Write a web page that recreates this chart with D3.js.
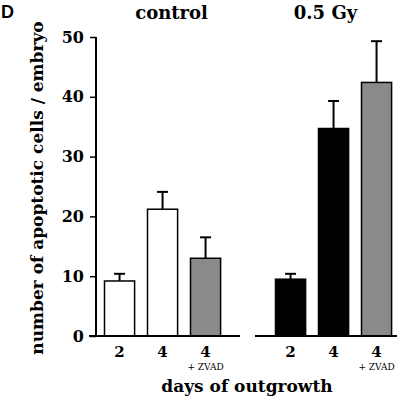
<!DOCTYPE html>
<html><head><meta charset="utf-8">
<script src="https://cdn.jsdelivr.net/npm/d3@7"></script>
<style>body{margin:0;background:#fff}svg{display:block}
.sf{font-family:"DejaVu Serif",serif;}
</style>
</head><body>
<script>
// ---- data ----
const categories = ["2", "4", "4"];
const subLabels = ["", "", "+ ZVAD"];
const panels = ["control", "0.5 Gy"];
const controlValues = [9.2, 21.2, 13.0];
const controlErrors = [10.4, 24.1, 16.5];
const irradiatedValues = [9.5, 34.7, 42.4];
const irradiatedErrors = [10.4, 39.3, 49.3];
const yTicks = [0, 10, 20, 30, 40, 50];
const controlFills = ["#ffffff", "#ffffff", "#8a8a8a"];
const irradiatedFills = ["#000000", "#000000", "#8a8a8a"];

const W = 400, H = 400;
const svg = d3.select("body").append("svg").attr("width", W).attr("height", H);

const y = d3.scaleLinear().domain([0, 50]).range([336, 37]);

const yAxis = d3.axisLeft(y).tickValues(yTicks).tickSize(6).tickPadding(6);
const gy = svg.append("g").attr("transform", "translate(96,0)").call(yAxis);
gy.attr("font-family", null);
gy.select(".domain").attr("d", `M0,${y(0)}V${y(50)}`).attr("stroke", "#000").attr("stroke-width", 2);
gy.selectAll(".tick line").attr("stroke-width", 1.5);
gy.selectAll(".tick text").attr("class", "sf").attr("font-weight", "bold")
  .attr("font-size", 16).attr("fill", "#000");

const panelDefs = [
  {name: panels[0], values: controlValues, errs: controlErrors, fills: controlFills,
   range: [91.6, 233.5], base: [89, 240], titleShift: 9},
  {name: panels[1], values: irradiatedValues, errs: irradiatedErrors, fills: irradiatedFills,
   range: [262.6, 404.5], base: [255, 397], titleShift: -8}
];

panelDefs.forEach(p => {
  const x = d3.scaleBand().domain(d3.range(categories.length)).range(p.range).padding(0.3);
  const g = svg.append("g");
  const bw = x.bandwidth();
  g.selectAll("line.err").data(p.values).join("line").attr("class", "err")
    .attr("x1", (d, i) => x(i) + bw / 2).attr("x2", (d, i) => x(i) + bw / 2)
    .attr("y1", d => y(d)).attr("y2", (d, i) => y(p.errs[i]))
    .attr("stroke", "#000").attr("stroke-width", 2);
  g.selectAll("line.cap").data(p.errs).join("line").attr("class", "cap")
    .attr("x1", (d, i) => x(i) + bw / 2 - 5.5).attr("x2", (d, i) => x(i) + bw / 2 + 5.5)
    .attr("y1", d => y(d)).attr("y2", d => y(d))
    .attr("stroke", "#000").attr("stroke-width", 2);
  g.selectAll("rect").data(p.values).join("rect")
    .attr("x", (d, i) => x(i)).attr("width", bw)
    .attr("y", d => y(d)).attr("height", d => y(0) - y(d))
    .attr("fill", (d, i) => p.fills[i]).attr("stroke", "#000").attr("stroke-width", 1.5);
  g.append("line").attr("x1", p.base[0]).attr("x2", p.base[1])
    .attr("y1", y(0)).attr("y2", y(0)).attr("stroke", "#000").attr("stroke-width", 2);
  g.selectAll("text.cat").data(categories).join("text").attr("class", "cat sf")
    .attr("x", (d, i) => x(i) + bw / 2).attr("y", 357)
    .attr("text-anchor", "middle").attr("font-weight", "bold")
    .attr("font-size", 15).text(d => d);
  g.selectAll("text.sub").data(subLabels).join("text").attr("class", "sub sf")
    .attr("x", (d, i) => x(i) + bw / 2).attr("y", 370)
    .attr("text-anchor", "middle")
    .attr("font-size", 9).text(d => d);
  g.append("text").attr("class", "sf").attr("x", x(1) + bw / 2 + p.titleShift).attr("y", 19)
    .attr("text-anchor", "middle").attr("font-weight", "bold")
    .attr("font-size", 18).text(p.name);
});

svg.append("text").attr("class", "sf").attr("x", 247).attr("y", 392).attr("text-anchor", "middle")
  .attr("font-weight", "bold").attr("font-size", 17)
  .text("days of outgrowth");
svg.append("text").attr("class", "sf").attr("transform", "translate(43,188) rotate(-90)").attr("text-anchor", "middle")
  .attr("font-weight", "bold").attr("font-size", 17)
  .text("number of apoptotic cells / embryo");
svg.append("text").attr("x", 1).attr("y", 18)
  .attr("font-family", "Liberation Sans, Arial, sans-serif").attr("font-weight", "bold")
  .attr("font-size", 18).text("D");
</script>
</body></html>
